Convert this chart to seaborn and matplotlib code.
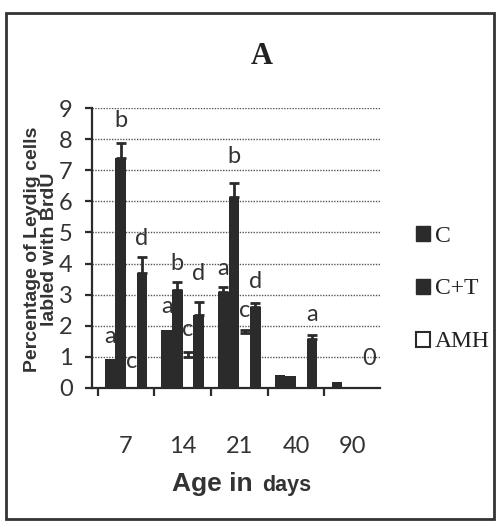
import matplotlib
matplotlib.use("Agg")
import matplotlib.pyplot as plt
from matplotlib.patches import Patch, Rectangle
import seaborn as sns
import pandas as pd

# ---- data ----
ages = ["7", "14", "21", "40", "90"]
series = ["C", "C+T", "AMH", "AMH+T"]
c_vals = [0.91, 1.87, 3.09, 0.41, 0.17]
ct_vals = [7.39, 3.15, 6.15, 0.38, 0.0]
amh_vals = [0.55, 1.00, 1.75, 0.38, 0.0]
amht_vals = [3.69, 2.34, 2.59, 1.56, 0.0]
c_err = [0.0, 0.0, 0.14, 0.0, 0.0]
ct_err = [0.48, 0.27, 0.45, 0.0, 0.0]
amh_err = [0.0, 0.16, 0.10, 0.0, 0.0]
amht_err = [0.53, 0.43, 0.13, 0.15, 0.0]
# significance letters (per series, per age) and their heights
c_lab = ["a", "a", "a", "", ""]
ct_lab = ["b", "b", "b", "", ""]
amh_lab = ["c", "c", "c", "", ""]
amht_lab = ["d", "d", "d", "a", "0"]
c_lab_y = [1.64, 2.61, 3.85, 0, 0]
ct_lab_y = [8.62, 4.00, 7.44, 0, 0]
amh_lab_y = [0.84, 1.86, 2.50, 0, 0]
amht_lab_y = [4.82, 3.68, 3.41, 2.37, 0.95]
legend_labels = ["C", "C+T", "AMH"]

vals = [c_vals, ct_vals, amh_vals, amht_vals]
errs = [c_err, ct_err, amh_err, amht_err]
labs = [c_lab, ct_lab, amh_lab, amht_lab]
lab_ys = [c_lab_y, ct_lab_y, amh_lab_y, amht_lab_y]

rows = []
for s, v in zip(series, vals):
    for a, y in zip(ages, v):
        rows.append({"Age": a, "Group": s, "Value": y})
df = pd.DataFrame(rows)

dark = "#2b2b2b"
palette = {"C": dark, "C+T": dark, "AMH": "white", "AMH+T": dark}

sns.set_theme(style="white")
plt.rcParams["font.family"] = ["Lato", "DejaVu Sans"]

fig = plt.figure(figsize=(4.97, 5.24), dpi=100)
ax = fig.add_axes([92 / 497, 136.3 / 524, 288 / 497, 279.4 / 524])

sns.barplot(data=df, x="Age", y="Value", hue="Group", order=ages,
            hue_order=series, palette=palette, errorbar=None,
            width=0.75, saturation=1, linewidth=0, ax=ax, legend=False)

for cont, e_list, l_list, ly_list in zip(ax.containers, errs, labs, lab_ys):
    for bar, e, l, ly in zip(cont, e_list, l_list, ly_list):
        xc = bar.get_x() + bar.get_width() / 2
        top = bar.get_height()
        if e > 0:
            ax.errorbar(xc, top, yerr=[[0], [e]], fmt="none", ecolor=dark,
                        elinewidth=2, capsize=3.5, capthick=2, zorder=3)
        if l:
            ax.text(xc, ly, l, ha="center", va="center", fontsize=17,
                    color="#333333", zorder=4)

ax.set_xlim(-0.6, 4.48)
ax.set_ylim(0, 9)
ax.set_yticks(range(0, 10))
ax.yaxis.grid(True, linestyle=(0, (1, 1)), color="#555555", linewidth=1.0)
ax.set_axisbelow(True)
for s in ["top", "right"]:
    ax.spines[s].set_visible(False)
for s in ["left", "bottom"]:
    ax.spines[s].set_color(dark)
    ax.spines[s].set_linewidth(1.6)
ax.tick_params(axis="y", which="major", left=True, length=5, width=1.6,
               color=dark, pad=9, labelsize=17, labelcolor="#333333")
ax.set_xticks(range(len(ages)))
ax.set_xticklabels(ages)
ax.set_xticks([i - 0.5 for i in range(len(ages))], minor=True)
ax.tick_params(axis="x", which="major", length=0, pad=35, labelsize=17,
               labelcolor="#333333")
ax.tick_params(axis="x", which="minor", bottom=True, length=6, width=1.6,
               color=dark)
ax.set_xlabel("")
ax.set_ylabel("")

# y label
fig.text(41 / 497, 1 - 249 / 524, "Percentage of Leydig cells\nlabled with BrdU",
         rotation=90, ha="center", va="center", multialignment="center",
         fontsize=14, fontweight="bold", family="Liberation Sans",
         color="#333333", linespacing=0.95)
# x label
fig.text(253 / 497, 33.3 / 524, "Age in", ha="right", va="baseline",
         fontsize=19, fontweight="bold", family="Liberation Sans", color="#333333")
fig.text(262 / 497, 33.3 / 524, "days", ha="left", va="baseline",
         fontsize=15.5, fontweight="bold", family="Liberation Sans", color="#333333")
# title
fig.text(262 / 497, 1 - 56 / 524, "A", ha="center", va="center", fontsize=22,
         fontweight="bold", family="Liberation Serif", color="#222222")

handles = [Patch(facecolor=dark, edgecolor=dark),
           Patch(facecolor=dark, edgecolor=dark),
           Patch(facecolor="white", edgecolor=dark, linewidth=1.5)]
leg = fig.legend(handles, legend_labels, loc="center left",
                 bbox_to_anchor=(404 / 497, 1 - 289 / 524), frameon=False,
                 handlelength=0.6, handleheight=0.6, handletextpad=0.2,
                 labelspacing=1.35, borderpad=0,
                 prop={"family": "Liberation Serif", "size": 17})
for t in leg.get_texts():
    t.set_color("#222222")

# outer frame
fig.patches.append(Rectangle((6 / 497, 5 / 524), 488 / 497, 506 / 524,
                             transform=fig.transFigure, fill=False,
                             edgecolor="#333333", linewidth=2))

fig.savefig("out.png", dpi=100)
